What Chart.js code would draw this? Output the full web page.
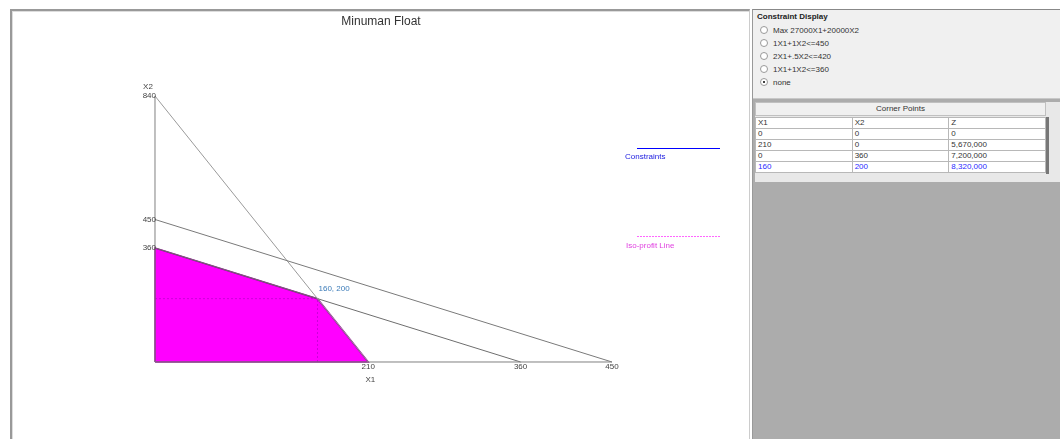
<!DOCTYPE html>
<html>
<head>
<meta charset="utf-8">
<script src="https://cdn.jsdelivr.net/npm/chart.js@4/dist/chart.umd.min.js"></script>
<style>
  body { margin: 0; width: 1060px; height: 439px; background: #fff; position: relative; overflow: hidden;
         font-family: "Liberation Sans", Arial, sans-serif; }
  #graphPanel { position: absolute; left: 10px; top: 9px; width: 740px; height: 430px;
                border-top: 2px solid #999; border-left: 2px solid #999; border-right: 1px solid #ccc;
                box-shadow: inset 1px 1px 0 #ddd; background: #fff; box-sizing: border-box; }
  #lpChart { position: absolute; left: 12px; top: 12px; }
  #sidePanel { position: absolute; left: 752px; top: 9px; width: 308px; height: 430px; background: #acacac;
               border-top: 1px solid #888; border-left: 1px solid #999; box-sizing: border-box; }
  #groupBox { position: absolute; left: 0; top: 0; width: 307px; height: 88px; background: #f0f0f0;
              border-bottom: 1px solid #c8c8c8; }
  #groupBox .caption { position: absolute; left: 4px; top: 2px; font-size: 8px; font-weight: bold; color: #222; }
  .opt { position: absolute; left: 7px; font-size: 8px; color: #333; height: 10px; line-height: 10px; }
  .opt .dot { display: inline-block; width: 6px; height: 6px; border: 1px solid #999; border-radius: 50%;
              background: #fff; vertical-align: middle; margin-right: 5px; position: relative; top: -1px; }
  .opt .dot.on::after { content: ""; position: absolute; left: 2px; top: 2px; width: 2px; height: 2px;
                        background: #000; border-radius: 50%; }
  #tableWrap { position: absolute; left: 2px; top: 92px; width: 305px; height: 80px; background: #e8e8e8; }
  #tableHead { position: absolute; left: 0; top: 0; width: 289px; height: 12px; background: #f0f0f0;
               border: 1px solid #c0c0c0; font-size: 8px; line-height: 12px; text-align: center; color: #333; }
  #corners { position: absolute; left: 0; top: 15px; border-collapse: collapse; font-size: 8px; color: #333;
             background: #fff; width: 291px; table-layout: fixed; }
  #corners td { border: 1px solid #b8b8b8; height: 10px; line-height: 10px; padding: 0 0 0 2px; overflow: hidden;
                white-space: nowrap; }
  #corners tr.best td { color: #2a2aff; }
  #scrollStrip { position: absolute; left: 291px; top: 15px; width: 3px; height: 57px; background: #777; }
</style>
</head>
<body>
<div id="graphPanel"></div>
<canvas id="lpChart" width="738" height="427"></canvas>
<div id="sidePanel">
  <div id="groupBox">
    <div class="caption">Constraint Display</div>
  </div>
  <div id="tableWrap">
    <div id="tableHead">Corner Points</div>
    <table id="corners"></table>
    <div id="scrollStrip"></div>
  </div>
</div>
<script>
const chartTitle = 'Minuman Float';
const objective = 'Max 27000X1+20000X2';
const constraintLabels = ['1X1+1X2<=450', '2X1+.5X2<=420', '1X1+1X2<=360'];
const constraintX1 = [450, 210, 360];   // intercept on X1 axis
const constraintX2 = [450, 840, 360];   // intercept on X2 axis
const feasibleX1 = [0, 0, 160, 210];
const feasibleX2 = [0, 360, 200, 0];
const cornerX1 = [0, 210, 0, 160];
const cornerX2 = [0, 0, 360, 200];
const cornerZ = ['0', '5,670,000', '7,200,000', '8,320,000'];
const bestCorner = 3;
const xTicks = [210, 360, 450];
const yTicks = [360, 450, 840];

// radio list
let groupBox = document.getElementById('groupBox');
let options = [objective].concat(constraintLabels).concat(['none']);
for (let i = 0; i < options.length; i++) {
    let row = document.createElement('div');
    row.className = 'opt';
    row.style.top = (16 + i * 13) + 'px';
    row.innerHTML = '<span class="dot' + (options[i] === 'none' ? ' on' : '') + '"></span>' + options[i];
    groupBox.appendChild(row);
}

// corner points table
let table = document.getElementById('corners');
let head = table.insertRow();
['X1', 'X2', 'Z'].forEach(function (h) { head.insertCell().innerText = h; });
for (let i = 0; i < cornerX1.length; i++) {
    let tr = table.insertRow();
    if (i === bestCorner) tr.className = 'best';
    tr.insertCell().innerText = cornerX1[i];
    tr.insertCell().innerText = cornerX2[i];
    tr.insertCell().innerText = cornerZ[i];
}

let datasets = [];
let polygon = [];
for (let i = 0; i < feasibleX1.length; i++) polygon.push({x: feasibleX1[i], y: feasibleX2[i]});
polygon.push({x: feasibleX1[0], y: feasibleX2[0]});
datasets.push({
    data: polygon, fill: 'shape', backgroundColor: '#ff00ff', borderColor: '#a000a0',
    borderWidth: 1.5, order: 10
});

// guide lines to the optimum corner
let bx = cornerX1[bestCorner], by = cornerX2[bestCorner];
datasets.push({data: [{x: bx, y: 0}, {x: bx, y: by}], borderColor: 'rgba(110,0,150,0.35)', borderWidth: 1, borderDash: [2, 2], order: 5});
datasets.push({data: [{x: 0, y: by}, {x: bx, y: by}], borderColor: 'rgba(110,0,150,0.35)', borderWidth: 1, borderDash: [2, 2], order: 5});

let lineColors = ['#7a7a7a', '#9a9a9a', '#6e6e6e'];
for (let i = 0; i < constraintLabels.length; i++) {
    datasets.push({
        data: [{x: 0, y: constraintX2[i]}, {x: constraintX1[i], y: 0}],
        borderColor: lineColors[i], borderWidth: 1, order: 1
    });
}
// axes
datasets.push({data: [{x: 0, y: 0}, {x: 0, y: Math.max(...yTicks)}], borderColor: '#808080', borderWidth: 1, order: 0});
datasets.push({data: [{x: 0, y: 0}, {x: Math.max(...xTicks), y: 0}], borderColor: '#808080', borderWidth: 1, order: 0});

const textPlugin = {
    id: 'lpText',
    afterDatasetsDraw(chart) {
        let ctx = chart.ctx;
        let xs = chart.scales.x, ys = chart.scales.y;
        let x0 = xs.getPixelForValue(0), y0 = ys.getPixelForValue(0);
        ctx.save();
        ctx.fillStyle = '#333';
        ctx.font = '12px "Liberation Sans", Arial, sans-serif';
        ctx.textAlign = 'center';
        ctx.textBaseline = 'middle';
        ctx.fillText(chartTitle, chart.width / 2, 10);

        ctx.font = '8px "Liberation Sans", Arial, sans-serif';
        ctx.fillStyle = '#444';
        ctx.textAlign = 'right';
        yTicks.forEach(function (v) { ctx.fillText(v, x0 + 1, ys.getPixelForValue(v)); });
        ctx.textAlign = 'center';
        ctx.fillText('X2', x0 - 7, ys.getPixelForValue(840) - 9);
        ctx.textBaseline = 'top';
        xTicks.forEach(function (v) { ctx.fillText(v, xs.getPixelForValue(v), y0 + 1); });
        ctx.fillText('X1', xs.getPixelForValue(212), y0 + 14);

        // optimum label
        ctx.fillStyle = '#3b7bb8';
        ctx.textAlign = 'left';
        ctx.textBaseline = 'middle';
        ctx.fillText(bx + ', ' + by, xs.getPixelForValue(bx) + 1, ys.getPixelForValue(by) - 10);

        // legend
        ctx.strokeStyle = '#0000ff';
        ctx.lineWidth = 1;
        ctx.beginPath(); ctx.moveTo(625, 136.5); ctx.lineTo(708, 136.5); ctx.stroke();
        ctx.fillStyle = '#2020e0';
        ctx.fillText('Constraints', 613, 145);
        ctx.strokeStyle = '#ff66ff';
        ctx.setLineDash([2, 1]);
        ctx.beginPath(); ctx.moveTo(625, 224.5); ctx.lineTo(708, 224.5); ctx.stroke();
        ctx.setLineDash([]);
        ctx.fillStyle = '#e040e0';
        ctx.fillText('Iso-profit Line', 614, 234);
        ctx.restore();
    }
};

new Chart(document.getElementById('lpChart'), {
    type: 'line',
    data: {datasets: datasets},
    options: {
        responsive: false,
        animation: false,
        events: [],
        elements: {point: {radius: 0}, line: {tension: 0}},
        layout: {padding: 0},
        plugins: {legend: {display: false}, tooltip: {enabled: false}, title: {display: false}},
        scales: {
            x: {type: 'linear', display: false, min: -140.8, max: 585.9},
            y: {type: 'linear', display: false, min: -243.2, max: 1105.3}
        }
    },
    plugins: [textPlugin]
});
</script>
</body>
</html>
